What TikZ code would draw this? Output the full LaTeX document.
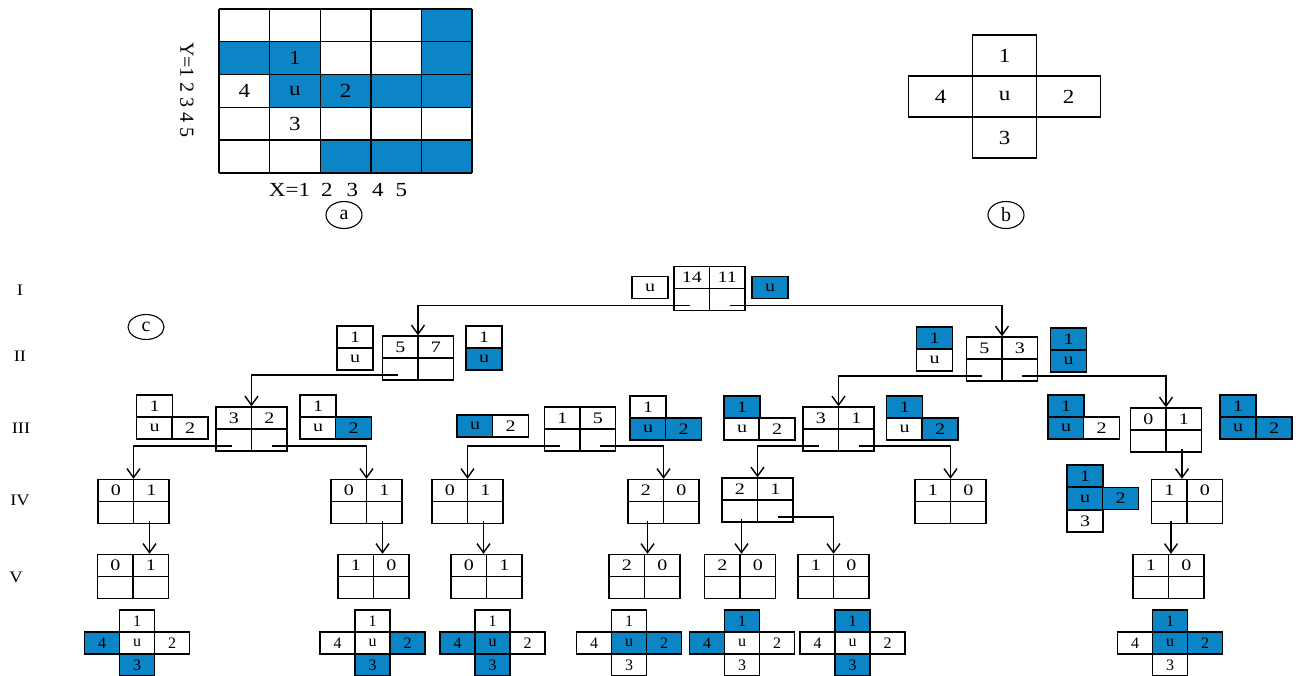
\documentclass[tikz,border=0pt]{standalone}
\usepackage{fontspec}
\setmainfont{Liberation Serif}
\usetikzlibrary{arrows.meta,shapes.geometric}
\definecolor{cb}{RGB}{12,133,198}
\newcommand\sx[1]{\scalebox{1.25}[1]{#1}}
\newcommand\sy[1]{\scalebox{1.15}[1]{#1}}
\tikzset{
  wc/.style={fill=white},
  bc/.style={fill=cb},
  cellst/.style={draw, line width=1.3pt, minimum width=36pt, minimum height=22pt, inner sep=0pt, font=\fontsize{16}{18}\selectfont},
  crcell/.style={draw, line width=1.2pt, minimum width=35pt, minimum height=22pt, inner sep=0pt, font=\fontsize{16}{18}\selectfont},
  bigcell/.style={draw, line width=1.3pt, minimum width=64pt, minimum height=41pt, inner sep=0pt, font=\fontsize{20}{22}\selectfont},
  tblst/.style={draw, line width=1.4pt, minimum width=71pt, minimum height=44pt, inner sep=0pt},
  txt/.style={inner sep=0pt, font=\fontsize{16}{18}\selectfont},
  big/.style={inner sep=0pt, font=\fontsize{20}{22}\selectfont},
  arr/.style={line width=1.4pt, -{Straight Barb[length=9pt,width=13pt,line width=1.4pt]}},
  circ/.style={draw, ellipse, line width=1.1pt, minimum width=36pt, minimum height=27pt, inner sep=0pt, font=\fontsize{20}{22}\selectfont},
}
\newcommand\tbl[5]{%
  \node[tblst] (#1) at (#2,#3) {};
  \draw[line width=1.4pt] (#1.north) -- (#1.south) (#1.west) -- (#1.east);
  \node[txt] (#1ta) at ([xshift=-17.75pt,yshift=11pt]#1.center) {\sx{#4}};
  \node[txt] (#1tb) at ([xshift=17.75pt,yshift=11pt]#1.center) {\sx{#5}};
  \coordinate (#1l) at ([xshift=-20pt,yshift=-17pt]#1.center);
  \coordinate (#1r) at ([xshift=20pt,yshift=-17pt]#1.center);
  \coordinate (#1vl) at ([xshift=-16pt,yshift=-19pt]#1.center);
  \coordinate (#1vr) at ([xshift=16pt,yshift=-19pt]#1.center);
}
\newcommand\cel[5][wc]{\node[cellst,#1] (#2) at (#3,#4) {\sx{#5}};}
% cross: name, cx, style1, style4, styleu, style2, style3
\newcommand\crs[7]{%
  \node[crcell,#3] (#1a) at (#2,621) {1};
  \node[crcell,#4] (#1b) at ([xshift=-35pt]#2,643) {4};
  \node[crcell,#5] (#1c) at (#2,643) {u};
  \node[crcell,#6] (#1d) at ([xshift=35pt]#2,643) {2};
  \node[crcell,#7] (#1e) at (#2,665) {3};
}
\begin{document}
\begin{tikzpicture}[x=1pt,y=-1pt]
\useasboundingbox (0,0) rectangle (1296,676);
% ---------- (a) grid ----------
\foreach \c/\r in {5/1,1/2,2/2,5/2,2/3,3/3,4/3,5/3,3/5,4/5,5/5}{
  \fill[cb] ({219+(\c-1)*50.6},{9+(\r-1)*32.8}) rectangle ({219+\c*50.6},{9+\r*32.8});
}
\foreach \i in {0,...,5}{
  \draw[line width=1.4pt] ({219+\i*50.6},9) -- ({219+\i*50.6},173);
  \draw[line width=1.4pt] (219,{9+\i*32.8}) -- (472,{9+\i*32.8});
}
\node[big] (ga1) at ({219+1.5*50.6},{9+1.5*32.8}) {\sy{1}};
\node[big] (ga4) at ({219+0.5*50.6},{9+2.5*32.8}) {\sy{4}};
\node[big] (gau) at ({219+1.5*50.6},{9+2.5*32.8}) {\sy{u}};
\node[big] (ga2) at ({219+2.5*50.6},{9+2.5*32.8}) {\sy{2}};
\node[big] (ga3) at ({219+1.5*50.6},{9+3.5*32.8}) {\sy{3}};
\node[big,rotate=-90] (ylab) at (187,90) {Y=1\hspace{5pt}2\hspace{5pt}3\hspace{5pt}4\hspace{5pt}5};
\node[big] (xlab) at (338,190) {\sy{X=1}\hspace{11pt}\sy{2}\hspace{14pt}\sy{3}\hspace{14pt}\sy{4}\hspace{12pt}\sy{5}};
\node[circ] (ca) at (344,215) {a};
% ---------- (b) cross ----------
\node[bigcell] (b1) at (1004.5,55.5) {\sy{1}};
\node[bigcell] (b4) at (940.5,96.5) {\sy{4}};
\node[bigcell] (bu) at (1004.5,96.5) {\sy{u}};
\node[bigcell] (b2) at (1068.5,96.5) {\sy{2}};
\node[bigcell] (b3) at (1004.5,137.5) {\sy{3}};
\node[circ] (cbb) at (1006,215) {b};
% ---------- (c) labels ----------
\node[circ, minimum width=36pt, minimum height=25pt] (cc) at (146,327) {c};
\node[txt] (L1) at (20,290) {\sy{I}};
\node[txt] (L2) at (20,356) {\sy{II}};
\node[txt] (L3) at (21,428) {\sy{III}};
\node[txt] (L4) at (20,500) {\sy{IV}};
\node[txt] (L5) at (16,577) {\sy{V}};
% ---------- tree ----------
\tbl{R}{709.5}{288.5}{14}{11}
\cel{Ru1}{650}{287.5}{u}
\cel[bc]{Ru2}{770}{287.5}{u}

\tbl{A}{418}{358}{5}{7}
\cel{A11}{355}{337}{1}
\cel{A1u}{355}{359}{u}
\cel{A21}{484}{337}{1}
\cel[bc]{A2u}{484}{359}{u}

\tbl{B}{1002}{359}{5}{3}
\cel[bc]{B11}{934.5}{338}{1}
\cel{B1u}{934.5}{360}{u}
\cel[bc]{B21}{1068.5}{339}{1}
\cel[bc]{B2u}{1068.5}{361}{u}

\tbl{C1}{251.5}{429}{3}{2}
\cel{C1a1}{154.5}{406}{1}
\cel{C1au}{154.5}{428}{u}
\cel{C1a2}{190}{428}{2}
\cel{C1b1}{318}{406}{1}
\cel{C1bu}{318}{428}{u}
\cel[bc]{C1b2}{353.5}{428}{2}

\tbl{C2}{580}{429}{1}{5}
\cel[bc]{C2au}{475}{426}{u}
\cel{C2a2}{510.5}{426}{2}
\cel{C2b1}{648}{407}{1}
\cel[bc]{C2bu}{648}{429}{u}
\cel[bc]{C2b2}{683.5}{429}{2}

\tbl{C3}{838.5}{429}{3}{1}
\cel[bc]{C3a1}{742}{407}{1}
\cel{C3au}{742}{429}{u}
\cel{C3a2}{777}{429}{2}
\cel[bc]{C3b1}{904.5}{407}{1}
\cel{C3bu}{904.5}{429}{u}
\cel[bc]{C3b2}{940}{429}{2}

\tbl{C4}{1166}{430}{0}{1}
\cel[bc]{C4a1}{1066}{406}{1}
\cel[bc]{C4au}{1066}{428}{u}
\cel{C4a2}{1101.5}{428}{2}
\cel[bc]{C4b1}{1238}{406}{1}
\cel[bc]{C4bu}{1238}{428}{u}
\cel[bc]{C4b2}{1274}{428}{2}

\tbl{D1}{133.5}{501.5}{0}{1}
\tbl{D2}{366.5}{501.5}{0}{1}
\tbl{D3}{467.5}{501.5}{0}{1}
\tbl{D4}{663.5}{501.5}{2}{0}
\tbl{D5}{757.5}{500}{2}{1}
\tbl{D6}{950.5}{501.5}{1}{0}
\tbl{D7}{1187}{501.5}{1}{0}
\cel[bc]{D7a1}{1085}{476}{1}
\cel[bc]{D7au}{1085}{498.5}{u}
\cel[bc]{D7a2}{1120.5}{498.5}{2}
\cel{D7a3}{1085}{521}{3}

\tbl{E1}{133}{576.5}{0}{1}
\tbl{E2}{373.5}{576.5}{1}{0}
\tbl{E3}{486.5}{576.5}{0}{1}
\tbl{E4}{644.5}{576.5}{2}{0}
\tbl{E5}{740}{576.5}{2}{0}
\tbl{E6}{833.5}{576.5}{1}{0}
\tbl{E7}{1168.5}{576.5}{1}{0}

% connectors
\draw[arr] (Rl) -| (A.north);
\draw[arr] (Rr) -| (B.north);
\draw[arr] (Al) -| (C1.north);
\draw[arr] (Bl) -| (C3.north);
\draw[arr] (Br) -| (C4.north);
\draw[arr] (C1l) -| (D1.north);
\draw[arr] (C1r) -| (D2.north);
\draw[arr] (C2l) -| (D3.north);
\draw[arr] (C2r) -| (D4.north);
\draw[arr] (C3l) -| (D5.north);
\draw[arr] (C3r) -| (D6.north);
\draw[arr] (C4vr) -- (C4vr |- D7.north);
\draw[arr] (D1vr) -- (D1vr |- E1.north);
\draw[arr] (D2vr) -- (D2vr |- E2.north);
\draw[arr] (D3vr) -- (D3vr |- E3.north);
\draw[arr] (D4vl) -- (D4vl |- E4.north);
\draw[arr] (D5vl) -- (D5vl |- E5.north);
\draw[arr] (D5r) -| (E6.north);
\draw[arr] (D7vl) -- (D7vl |- E7.north);

% bottom crosses
\crs{X1}{137}{wc}{bc}{wc}{wc}{bc}
\crs{X2}{372.5}{wc}{wc}{wc}{bc}{bc}
\crs{X3}{492.5}{wc}{bc}{bc}{wc}{bc}
\crs{X4}{629}{wc}{wc}{bc}{bc}{wc}
\crs{X5}{742}{bc}{bc}{wc}{wc}{wc}
\crs{X6}{852.5}{bc}{wc}{wc}{wc}{bc}
\crs{X7}{1170}{bc}{wc}{bc}{bc}{wc}
\end{tikzpicture}
\end{document}
